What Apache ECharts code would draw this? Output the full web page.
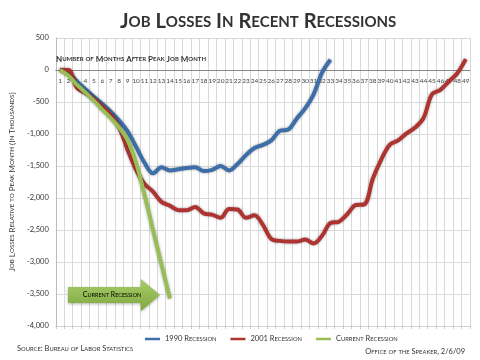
<!DOCTYPE html>
<html><head><meta charset="utf-8">
<script src="https://cdn.jsdelivr.net/npm/echarts@6/dist/echarts.min.js"></script>
<style>html,body{margin:0;padding:0;background:#fff}#c{width:480px;height:360px}</style>
</head><body><div id="c"></div>
<script>
const months = Array.from({length:49},(_, i)=>String(i+1));
const yTicks = {min:-4000, max:500, interval:500};
const rec1990 = [0,-40,-180,-300,-420,-530,-650,-790,-960,-1200,-1450,-1615,-1520,-1570,-1550,-1530,-1520,-1580,-1560,-1500,-1570,-1470,-1330,-1220,-1170,-1100,-950,-930,-760,-600,-380,-40,160];
const rec2001 = [0,0,-280,-360,-450,-570,-700,-900,-1250,-1560,-1780,-1900,-2060,-2120,-2190,-2190,-2140,-2240,-2260,-2310,-2170,-2180,-2310,-2270,-2420,-2640,-2670,-2680,-2680,-2650,-2710,-2590,-2390,-2370,-2250,-2110,-2100,-1700,-1400,-1170,-1100,-990,-900,-750,-380,-310,-180,-50,170];
const recCurrent = [0,-90,-230,-350,-480,-620,-750,-900,-1100,-1450,-1950,-2500,-3040,-3570];
const seriesNames = ['1990 Recession','2001 Recession','Current Recession'];
const titleText = 'Job Losses In Recent Recessions';
const xName = 'Number of Months After Peak Job Month';
const yName = 'Job Losses Relative to Peak Month (In Thousands)';
const sourceText = 'Source: Bureau of Labor Statistics';
const creditText = 'Office of the Speaker, 2/6/09';
const arrowText = 'Current Recession';

function sc(str){
  let out='', buf='', cur=null;
  for(const ch of str){
    const t = (ch>='a'&&ch<='z') ? 's' : 'b';
    if(t!==cur && buf){ out += '{'+cur+'|'+buf+'}'; buf=''; }
    cur=t; buf += ch.toUpperCase();
  }
  if(buf) out += '{'+cur+'|'+buf+'}';
  return out;
}
const FF = 'Lato';
function rich(big, small, color, weight){
  return {b:{fontSize:big,fontFamily:FF,color:color,fontWeight:weight||'normal'},
          s:{fontSize:small,fontFamily:FF,color:color,fontWeight:weight||'normal'}};
}
const colors = ['#3d6ea8','#ad3430','#98bd55'];
const chart = echarts.init(document.getElementById('c'));
const lineSeries = [rec1990, rec2001, recCurrent].map((d,i)=>({
  name: seriesNames[i], type:'line', data:d, smooth:0.35, showSymbol:false,
  xAxisIndex:0, z: 3+i,
  lineStyle:{width:4, color:colors[i], shadowColor:'rgba(0,0,0,0.35)', shadowBlur:3},
  itemStyle:{color:colors[i]}
}));
chart.setOption({
  animation:false,
  color: colors,
  title:[
    {text: sc(titleText), left:115, top:7, textStyle:{rich: rich(20,15,'#333','bold')}},
    {text: sc(xName), left:51, top:50, textStyle:{rich: rich(8,6,'#333','bold')}},
    {text: sc(sourceText), left:12, top:340, textStyle:{rich: rich(7.5,5.8,'#333')}},
    {text: sc(creditText), right:10, top:343, textStyle:{rich: rich(7.5,5.8,'#333')}}
  ],
  legend:{
    top:330, left:140, itemGap:14, itemWidth:15, itemHeight:2.5, icon:'rect',
    data: seriesNames,
    formatter: n=>sc(n),
    textStyle:{rich: rich(7.5,5.8,'#333')}
  },
  grid:{left:45, right:10, top:38, bottom:34},
  xAxis:[{
    type:'category', data:months, boundaryGap:true, position:'bottom',
    axisLine:{onZero:false, lineStyle:{color:'#888', width:1}},
    axisTick:{show:false},
    axisLabel:{interval:0, fontSize:6.5, fontFamily:FF, color:'#444', margin:7},
    splitLine:{show:true, interval:0, lineStyle:{color:'#d8d8d8'}}
  },{
    type:'category', data:months, boundaryGap:true, position:'bottom',
    axisLine:{onZero:false, lineStyle:{color:'#d0d0d0'}},
    axisTick:{show:true, interval:0, length:3, lineStyle:{color:'#c8c8c8'}},
    axisLabel:{show:false}
  }],
  yAxis:{
    type:'value', min:yTicks.min, max:yTicks.max, interval:yTicks.interval,
    axisLine:{show:true, lineStyle:{color:'#bbb'}},
    axisTick:{show:false},
    axisLabel:{fontSize:7.5, fontFamily:FF, color:'#333', margin:7},
    splitLine:{lineStyle:{color:'#d8d8d8'}},
    name: sc(yName), nameLocation:'middle', nameRotate:90, nameGap:31,
    nameTextStyle:{rich: rich(8,6.2,'#333')}
  },
  series: lineSeries,
  graphic:[{
    type:'polygon', z:10,
    shape:{points:[[68,287],[141,287],[141,279],[160,295],[141,311],[141,303],[68,303]]},
    style:{fill:new echarts.graphic.LinearGradient(0,0,0,1,[{offset:0,color:'#a9cc6a'},{offset:1,color:'#7ea83e'}]),
           shadowColor:'rgba(0,0,0,0.3)', shadowBlur:3, shadowOffsetY:1}
  },{
    type:'text', z:11, x:112, y:295,
    style:{text: sc(arrowText), align:'center', verticalAlign:'middle',
           rich: rich(7,5.5,'#3e5a1c')}
  }]
});
// move the labelled axis line up to the zero value
const yZero = chart.convertToPixel({yAxisIndex:0}, 0);
const yBottom = chart.convertToPixel({yAxisIndex:0}, yTicks.min);
chart.setOption({xAxis:[{offset: -(yBottom - yZero)}, {}]});
</script></body></html>
